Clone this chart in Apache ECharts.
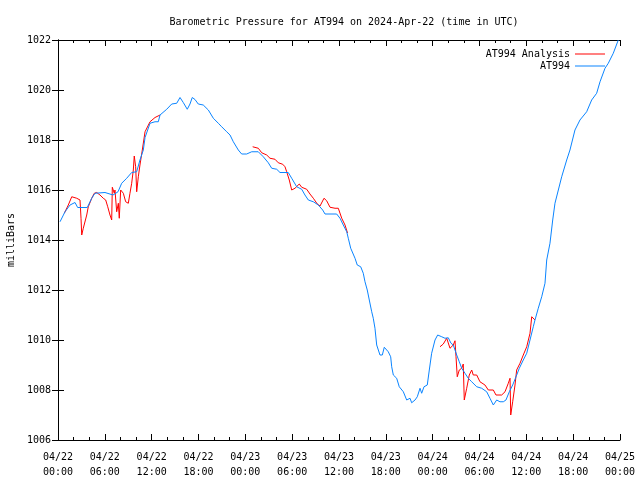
<!DOCTYPE html>
<html>
<head>
<meta charset="utf-8">
<script src="https://cdn.jsdelivr.net/npm/echarts@6/dist/echarts.min.js"></script>
<style>html,body{margin:0;padding:0;background:#fff}#c{width:640px;height:480px}</style>
</head>
<body>
<div id="c"></div>
<script>
// Hours since 2024-04-22 00:00 UTC and pressure (millibars)
var stationHours = [0.26,0.90,1.54,2.18,2.52,3.75,4.32,4.74,6.02,7.05,7.69,8.16,8.80,9.44,10.08,10.50,10.93,11.15,11.79,12.43,12.85,13.07,13.93,14.57,15.21,15.63,16.05,16.56,16.91,17.20,17.55,17.97,18.61,19.26,19.90,20.54,20.97,21.61,22.04,22.46,23.10,23.53,24.17,24.82,25.66,26.30,26.94,27.38,28.02,28.44,29.50,29.94,30.58,31.22,31.64,32.07,32.71,33.35,33.91,34.21,35.70,36.13,36.55,36.99,37.19,37.50,37.63,38.05,38.34,38.78,39.11,39.33,39.62,39.88,40.19,40.39,40.61,40.83,41.25,41.55,41.80,42.31,42.62,42.75,42.96,43.39,43.72,44.24,44.67,45.10,45.31,45.74,46.03,46.38,46.59,46.89,47.31,47.57,47.87,48.30,48.64,49.16,49.58,50.00,50.35,50.64,51.08,51.41,51.72,52.14,52.56,53.00,53.64,54.28,54.92,55.34,55.77,55.98,56.20,56.62,57.05,57.39,57.82,58.25,58.68,59.10,59.61,60.05,60.47,60.89,61.11,61.53,61.97,62.39,62.61,63.03,63.38,63.67,64.10,64.53,65.17,65.59,66.23,66.87,67.73,68.37,69.01,69.44,70.08,70.50,71.14,71.78];
var stationPressure = [1014.73,1015.13,1015.40,1015.50,1015.30,1015.30,1015.67,1015.87,1015.90,1015.80,1015.93,1016.27,1016.47,1016.70,1016.73,1017.20,1017.60,1018.10,1018.67,1018.73,1018.73,1019.00,1019.23,1019.44,1019.47,1019.70,1019.50,1019.23,1019.44,1019.70,1019.62,1019.44,1019.40,1019.20,1018.87,1018.67,1018.53,1018.33,1018.20,1017.93,1017.60,1017.44,1017.44,1017.53,1017.53,1017.33,1017.09,1016.87,1016.83,1016.70,1016.70,1016.47,1016.13,1016.03,1015.80,1015.60,1015.53,1015.40,1015.20,1015.04,1015.04,1014.87,1014.60,1014.33,1014.07,1013.67,1013.60,1013.27,1013.00,1012.93,1012.67,1012.33,1012.00,1011.60,1011.13,1010.87,1010.47,1009.80,1009.40,1009.40,1009.71,1009.53,1009.33,1008.93,1008.60,1008.47,1008.13,1007.93,1007.60,1007.67,1007.49,1007.60,1007.73,1008.07,1007.87,1008.13,1008.20,1008.80,1009.47,1010.00,1010.20,1010.13,1010.07,1010.09,1009.87,1009.80,1009.40,1009.13,1008.87,1008.67,1008.47,1008.33,1008.13,1008.07,1007.93,1007.67,1007.40,1007.40,1007.60,1007.53,1007.53,1007.60,1007.93,1008.20,1008.53,1008.87,1009.20,1009.47,1010.00,1010.53,1010.80,1011.27,1011.73,1012.27,1013.20,1013.87,1014.80,1015.47,1016.00,1016.53,1017.20,1017.60,1018.40,1018.80,1019.13,1019.60,1019.87,1020.33,1020.87,1021.07,1021.47,1022.00];

// Analysis: three separate segments
var analysisHours1 = [0.81,1.32,1.76,1.96,2.40,2.82,2.95,3.04,3.24,3.68,3.88,4.32,4.65,4.96,5.38,5.80,6.11,6.37,6.66,6.88,6.96,7.21,7.30,7.52,7.73,7.85,8.03,8.37,8.67,9.01,9.22,9.44,9.65,9.77,9.95,10.08,10.29,10.50,10.80,11.15,11.79,12.43,13.07];
var analysisPressure1 = [1015.07,1015.40,1015.73,1015.80,1015.67,1015.60,1014.87,1014.20,1014.47,1015.00,1015.33,1015.67,1015.87,1015.90,1015.80,1015.67,1015.60,1015.33,1015.00,1014.80,1016.11,1015.87,1016.00,1015.13,1015.47,1014.87,1016.00,1015.87,1015.53,1015.47,1015.87,1016.27,1016.80,1017.36,1016.93,1015.93,1016.53,1017.00,1017.60,1018.33,1018.73,1018.90,1019.00];
var analysisHours2 = [24.94,25.02,25.66,26.10,26.74,27.16,27.80,28.22,28.79,29.08,29.30,29.63,29.94,30.36,30.91,31.22,31.86,32.28,32.71,33.22,33.57,33.78,34.08,34.42,34.85,35.49,35.91,36.35,36.77,37.09];
var analysisPressure2 = [1017.73,1017.80,1017.67,1017.49,1017.40,1017.27,1017.23,1017.09,1017.03,1016.93,1016.73,1016.40,1016.00,1016.07,1016.24,1016.11,1016.03,1015.84,1015.67,1015.44,1015.36,1015.36,1015.67,1015.57,1015.31,1015.27,1015.27,1014.87,1014.60,1014.28];
var analysisHours3 = [48.94,49.36,49.80,50.00,50.22,50.64,50.86,50.99,51.15,51.41,51.72,51.92,52.05,52.36,52.69,53.00,53.20,53.64,54.06,54.70,55.13,55.77,56.11,56.84,57.27,57.69,57.91,58.00,58.25,58.55,58.76,59.19,59.61,60.05,60.47,60.69,60.89,61.11];
var analysisPressure3 = [1009.73,1009.84,1010.07,1010.03,1009.67,1009.80,1009.97,1009.33,1008.53,1008.80,1008.87,1009.04,1007.60,1008.07,1008.60,1008.80,1008.60,1008.60,1008.33,1008.20,1008.00,1008.00,1007.80,1007.80,1007.93,1008.27,1008.47,1007.00,1007.53,1008.20,1008.80,1009.07,1009.40,1009.73,1010.27,1010.93,1010.87,1010.80];

var yTicks = [1006,1008,1010,1012,1014,1016,1018,1020,1022];
var startDay = 22;

function pairs(h, v) { return h.map(function (x, i) { return [x, v[i]]; }); }
var analysisData = pairs(analysisHours1, analysisPressure1)
  .concat([[18, '-']])
  .concat(pairs(analysisHours2, analysisPressure2))
  .concat([[43, '-']])
  .concat(pairs(analysisHours3, analysisPressure3));
var stationData = pairs(stationHours, stationPressure);

function pad(n) { return (n < 10 ? '0' : '') + n; }
function fmtX(h) {
  var d = startDay + Math.floor(h / 24 + 1e-9);
  var hh = Math.round(h - (d - startDay) * 24);
  return '04/' + pad(d) + '\n' + pad(hh) + ':00';
}

var FONT = 'DejaVu Sans Mono';
var chart = echarts.init(document.getElementById('c'), null, {renderer: 'canvas'});
var tickCommon = {show: true, inside: true, length: 6, lineStyle: {color: '#000', width: 1}};
var minorCommon = {show: true, splitNumber: 3, length: 3, lineStyle: {color: '#000', width: 1}};
chart.setOption({
  animation: false,
  backgroundColor: '#fff',
  textStyle: {fontFamily: FONT},
  title: {
    text: 'Barometric Pressure for AT994 on 2024-Apr-22 (time in UTC)',
    left: 339, top: 12, textAlign: 'center',
    textStyle: {fontFamily: FONT, fontSize: 10, fontWeight: 'normal', color: '#000'}
  },
  legend: {
    orient: 'vertical', right: 30, top: 44, align: 'right',
    itemWidth: 30, itemHeight: 10, itemGap: 2,
    textStyle: {fontFamily: FONT, fontSize: 10, color: '#000'},
    data: [{name: 'AT994 Analysis', icon: 'path://M0,0 L30,0 L30,1 L0,1 Z'},
           {name: 'AT994', icon: 'path://M0,0 L30,0 L30,1 L0,1 Z'}]
  },
  grid: {left: 58, right: 20, top: 40, bottom: 40, containLabel: false, outerBoundsMode: 'none'},
  xAxis: [{
    type: 'value', min: 0, max: 72, interval: 6,
    axisLine: {show: true, lineStyle: {color: '#000', width: 1}},
    axisTick: tickCommon, minorTick: minorCommon,
    splitLine: {show: false},
    axisLabel: {formatter: fmtX, fontFamily: FONT, fontSize: 10, color: '#000', margin: 10, lineHeight: 15}
  }, {
    type: 'value', min: 0, max: 72, interval: 6, position: 'top',
    axisLine: {show: true, lineStyle: {color: '#000', width: 1}},
    axisTick: tickCommon, minorTick: minorCommon,
    splitLine: {show: false}, axisLabel: {show: false}
  }],
  yAxis: [{
    type: 'value', min: yTicks[0], max: yTicks[yTicks.length - 1], interval: 2,
    name: 'milliBars', nameLocation: 'middle', nameGap: 42, nameRotate: 90,
    nameTextStyle: {fontFamily: FONT, fontSize: 10, color: '#000'},
    axisLine: {show: true, lineStyle: {color: '#000', width: 1}},
    axisTick: tickCommon, splitLine: {show: false},
    axisLabel: {fontFamily: FONT, fontSize: 10, color: '#000', margin: 7,
      formatter: function (v) { return String(v); }}
  }, {
    type: 'value', min: yTicks[0], max: yTicks[yTicks.length - 1], interval: 2, position: 'right',
    axisLine: {show: true, lineStyle: {color: '#000', width: 1}},
    axisTick: tickCommon, splitLine: {show: false}, axisLabel: {show: false}
  }],
  series: [{
    name: 'AT994 Analysis', type: 'line', data: analysisData,
    showSymbol: false, symbol: 'none', connectNulls: false,
    lineStyle: {color: '#ff0000', width: 1}, itemStyle: {color: '#ff0000'}
  }, {
    name: 'AT994', type: 'line', data: stationData,
    showSymbol: false, symbol: 'none',
    lineStyle: {color: '#0a84ff', width: 1}, itemStyle: {color: '#0a84ff'}
  }]
});
</script>
</body>
</html>
